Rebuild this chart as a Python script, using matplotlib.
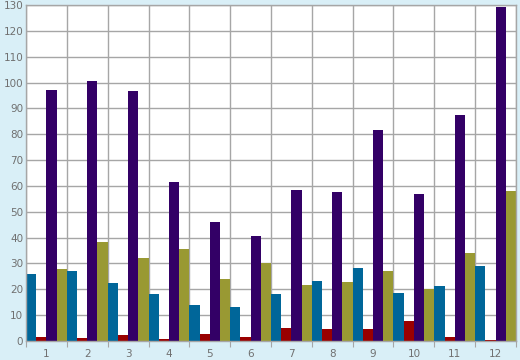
import numpy as np
import matplotlib.pyplot as plt

groups = ['1', '2', '3', '4', '5', '6', '7', '8', '9', '10', '11', '12']
blue = [25.8, 27.0, 22.4, 18.1, 13.8, 13.1, 18.1, 23.1, 28.2, 18.5, 21.2, 29.0]
red = [1.4, 1.0, 2.2, 0.6, 2.6, 1.4, 4.9, 4.5, 4.5, 7.6, 1.4, 0.3]
purple = [97.2, 100.6, 96.8, 61.5, 46.0, 40.6, 58.4, 57.6, 81.7, 56.9, 87.5, 129.3]
olive = [27.8, 38.2, 32.0, 35.5, 23.9, 30.1, 21.6, 22.7, 27.0, 20.0, 34.0, 58.0]

series = [blue, red, purple, olive]
colors = ['#006699', '#990000', '#330066', '#999933']

fig = plt.figure(figsize=(5.2, 3.6), dpi=100, facecolor='#d9eff7')
ax = fig.add_axes([26 / 520, 19.3 / 360, 490 / 520, 335.4 / 360])
ax.set_facecolor('white')

x = np.arange(len(groups))
w = 0.25
for k, (vals, c) in enumerate(zip(series, colors)):
    ax.bar(x + k * w, vals, width=w, align='edge', color=c, linewidth=0)

ax.set_xlim(0, 12)
ax.set_ylim(0, 130)
ax.set_yticks(np.arange(0, 131, 10))
ax.set_xticks(np.arange(0, 13))
ax.set_xticklabels([])
ax.set_xticks(x + 0.5, minor=True)
ax.set_xticklabels(groups, minor=True)

ax.set_axisbelow(True)
ax.grid(True, which='major', color='#a6a6a6', linewidth=1)
for s in ax.spines.values():
    s.set_color('#a6a6a6')
    s.set_linewidth(1)

ax.tick_params(axis='y', length=0, pad=2, labelsize=7.5, labelcolor='#707070')
ax.tick_params(axis='x', which='major', length=4, color='#a6a6a6', direction='out')
ax.tick_params(axis='x', which='minor', length=0, pad=6, labelsize=7.5, labelcolor='#707070')

fig.savefig('out.png', dpi=100, facecolor=fig.get_facecolor())
